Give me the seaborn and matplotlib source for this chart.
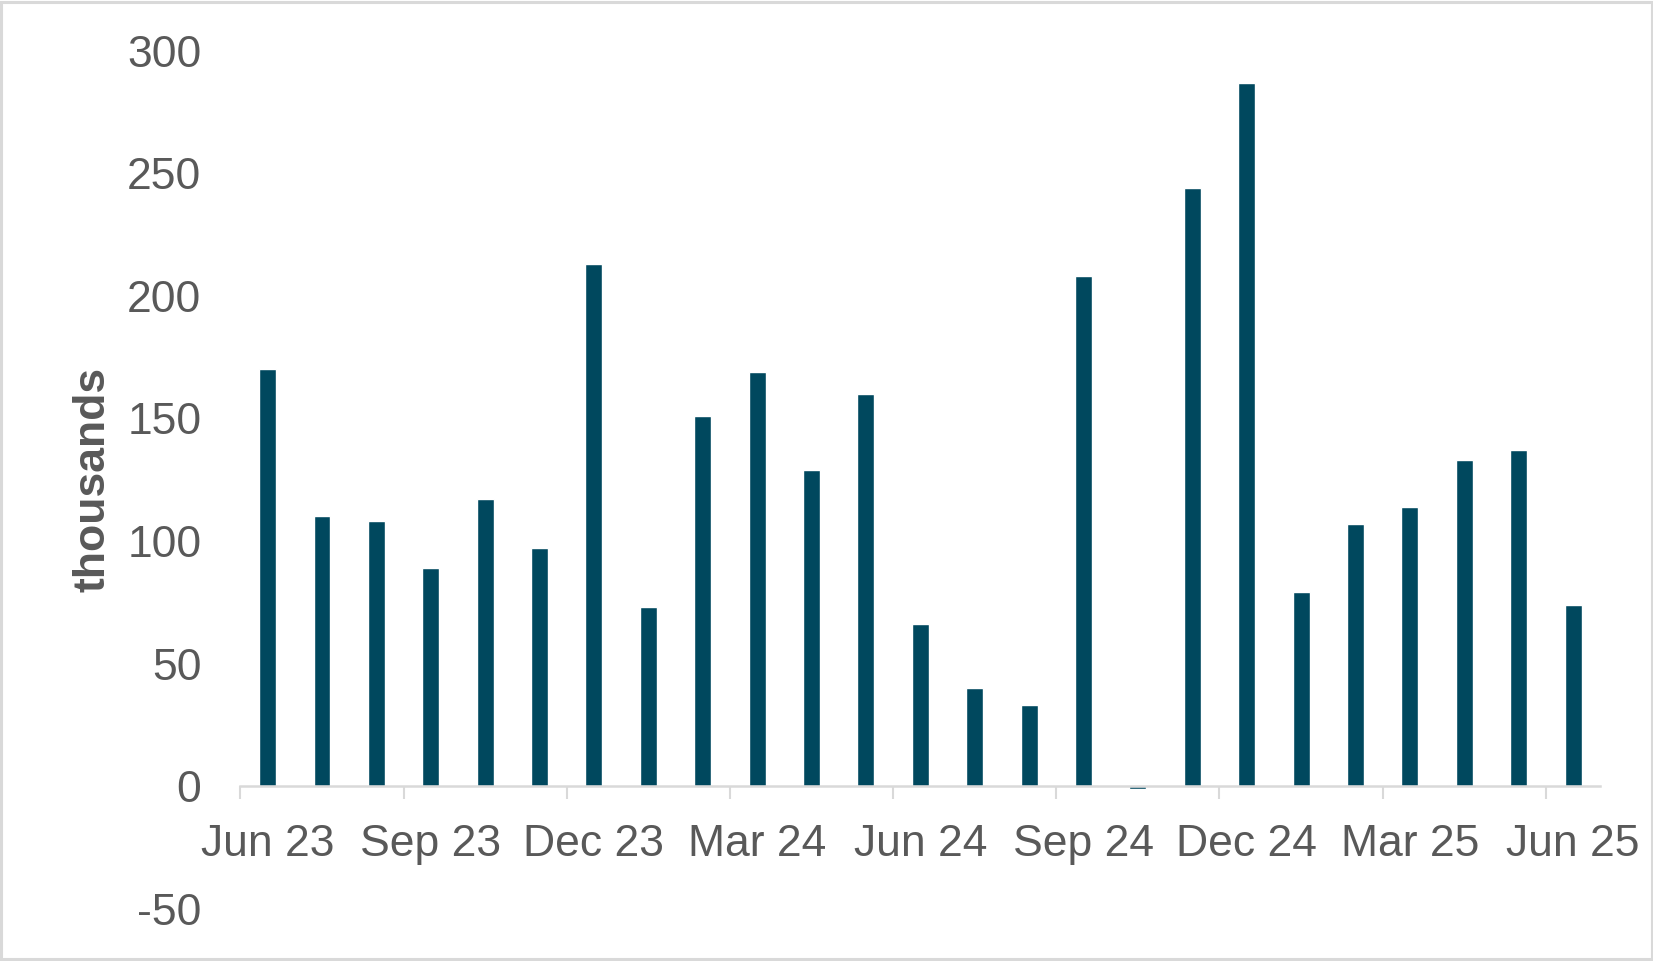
import numpy as np
import pandas as pd
import matplotlib
matplotlib.use("Agg")
import matplotlib.pyplot as plt
from matplotlib.patches import Rectangle
import seaborn as sns

# ---- data ----
months = ["Jun 23", "Jul 23", "Aug 23", "Sep 23", "Oct 23", "Nov 23", "Dec 23",
          "Jan 24", "Feb 24", "Mar 24", "Apr 24", "May 24", "Jun 24", "Jul 24",
          "Aug 24", "Sep 24", "Oct 24", "Nov 24", "Dec 24", "Jan 25", "Feb 25",
          "Mar 25", "Apr 25", "May 25", "Jun 25"]
values = [170, 110, 108, 89, 117, 97, 213, 73, 151, 169, 129, 160, 66, 40,
          33, 208, -1, 244, 287, 79, 107, 114, 133, 137, 74]
tick_labels = ["Jun 23", "Sep 23", "Dec 23", "Mar 24", "Jun 24", "Sep 24",
               "Dec 24", "Mar 25", "Jun 25"]
y_ticks = [-50, 0, 50, 100, 150, 200, 250, 300]
y_label = "thousands"

df = pd.DataFrame({"month": months, "value": values})

# ---- style ----
sns.set_theme(style="white")
plt.rcParams["font.family"] = ["Liberation Sans", "DejaVu Sans"]
text_color = "#595959"
axis_color = "#d9d9d9"
bar_color = "#00485E"

fig = plt.figure(figsize=(16.53, 9.61), dpi=100)
ax = fig.add_axes([0.1454, 0.0544, 0.8227, 0.8929])

sns.barplot(data=df, x="month", y="value", color=bar_color, saturation=1,
            width=0.31, ax=ax, errorbar=None)

n = len(months)
ax.set_xlim(-0.5, n - 0.5)
ax.set_ylim(-50, 300)
ax.set_yticks(y_ticks)
ax.set_yticklabels([str(v) for v in y_ticks])

# major ticks (marks) at category edges, minor ticks (labels) at centres
label_pos = [months.index(m) for m in tick_labels]
ax.set_xticks([p - 0.5 for p in label_pos])
ax.set_xticklabels([""] * len(label_pos))
ax.set_xticks(label_pos, minor=True)
ax.set_xticklabels(tick_labels, minor=True)

ax.tick_params(axis="x", which="major", length=9.5, width=1.5, color=axis_color,
               direction="out", bottom=True)
ax.tick_params(axis="x", which="minor", length=0, pad=27, labelsize=32,
               labelcolor=text_color, bottom=True)
ax.tick_params(axis="y", length=0, pad=28, labelsize=32, labelcolor=text_color)

for s in ["top", "right", "left"]:
    ax.spines[s].set_visible(False)
ax.spines["bottom"].set_position(("data", 0))
ax.spines["bottom"].set_color(axis_color)
ax.spines["bottom"].set_linewidth(1.8)

ax.set_xlabel("")
ax.set_ylabel(y_label, fontsize=32, fontweight="bold", color=text_color)
ax.yaxis.set_label_coords(-0.1085, 0.5)
ax.yaxis.label.set_verticalalignment("center")
ax.grid(False)

# outer chart border
fig.patches.append(Rectangle((0.0009, 0.0016), 0.9982, 0.9968,
                             transform=fig.transFigure, fill=False,
                             edgecolor=axis_color, linewidth=2.2))

fig.savefig("out.png", dpi=100, facecolor="white")
